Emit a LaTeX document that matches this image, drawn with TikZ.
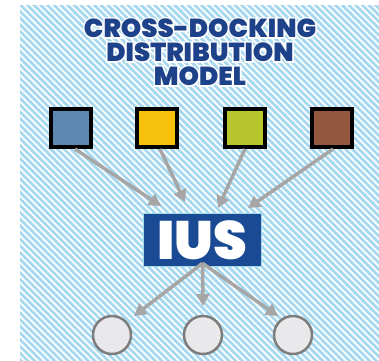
\documentclass[tikz,border=0pt]{standalone}
\usepackage{fontspec}
\IfFontExistsTF{Poppins Black}{\newfontfamily\heavyfont{Poppins Black}}{%
  \IfFontExistsTF{Poppins ExtraBold}{\newfontfamily\heavyfont{Poppins ExtraBold}}{\newfontfamily\heavyfont{Poppins}[UprightFont=*-Bold]}}
\usetikzlibrary{arrows.meta,calc}
\definecolor{stripe}{HTML}{A6D8EF}
\definecolor{titleblue}{HTML}{1E428A}
\definecolor{iusblue}{HTML}{1A4A93}
\definecolor{iusborder}{HTML}{9FD8E6}
\definecolor{arrowgray}{HTML}{A6A6A6}
\definecolor{circfill}{HTML}{E9E9EB}
\definecolor{circline}{HTML}{7D7D7D}
\definecolor{sqA}{HTML}{5D88B2}
\definecolor{sqB}{HTML}{F8C20C}
\definecolor{sqC}{HTML}{B6C62C}
\definecolor{sqD}{HTML}{93573F}
\newcommand{\fatwhite}[1]{\special{pdf:literal 2 Tr 1 1 1 RG 1 1 1 rg 3 w}#1\special{pdf:literal 0 Tr}}
\tikzset{
  srcbox/.style={draw=black, line width=4pt, minimum width=40pt, minimum height=38pt, inner sep=0pt},
  sink/.style={circle, draw=circline, fill=circfill, line width=2.5pt, minimum size=38pt, inner sep=0pt},
  flow/.style={draw=arrowgray, line width=3.5pt, -{Triangle[length=12pt,width=13pt]}},
  titletext/.style={font=\heavyfont\fontsize{26}{26}\selectfont, text=titleblue, inner sep=0pt},
  titleback/.style={font=\heavyfont\fontsize{26}{26}\selectfont, text=white, inner sep=0pt}
}
\begin{document}
\begin{tikzpicture}[x=1pt,y=-1pt]
\useasboundingbox (0,0) rectangle (379,360);
% striped panel
\begin{scope}
\clip (20,5) rectangle (400,380);
\fill[white] (20,5) rectangle (400,380);
\foreach \k in {0,...,130}{
  \draw[stripe, line width=2.7pt] (-420+6.7*\k,0) -- ++(420,420);
}
\end{scope}
% title: white halo behind, blue text on top
\foreach \t/\yy [count=\k] in {CROSS-DOCKING/28, DISTRIBUTION/52, MODEL/76}{
  \node[titleback] (halo\k) at (200,\yy) {\fatwhite{\t}};
  \node[titletext] (title\k) at (200,\yy) {\t};
}
% source squares
\node[srcbox, fill=sqA] (s1) at (71,128) {};
\node[srcbox, fill=sqB] (s2) at (157,128) {};
\node[srcbox, fill=sqC] (s3) at (245,128) {};
\node[srcbox, fill=sqD] (s4) at (332,128) {};
% hub
\node[draw=iusborder, fill=iusblue, line width=1.5pt, minimum width=118pt, minimum height=53pt, inner sep=0pt,
      text=white, font=\heavyfont\fontsize{54}{54}\selectfont] (ius) at (202.5,240) {\raisebox{-1pt}{IUS}};
% sink circles
\node[sink] (c1) at (112,335) {};
\node[sink] (c2) at (203,335) {};
\node[sink] (c3) at (293,335) {};
% arrow end points
\coordinate (e1) at (161,206);
\coordinate (e2) at (185,202);
\coordinate (e3) at (218,208);
\coordinate (e4) at (248,208);
\coordinate (f1) at (134,316);
\coordinate (f2) at (203,306);
\coordinate (f3) at (278,316);
% inbound arrows
\draw[flow] ($(s1.south)+(4,0)$) -- (e1);
\draw[flow] ($(s2.south)+(3,0)$) -- (e2);
\draw[flow] ($(s3.south)+(0,0)$) -- (e3);
\draw[flow] ($(s4.south)+(1,0)$) -- (e4);
% outbound arrows
\draw[flow] ($(ius.south)+(0,-4)$) -- (f1);
\draw[flow] ($(ius.south)+(0,-4)$) -- (f2);
\draw[flow] ($(ius.south)+(0,-4)$) -- (f3);
\end{tikzpicture}
\end{document}
